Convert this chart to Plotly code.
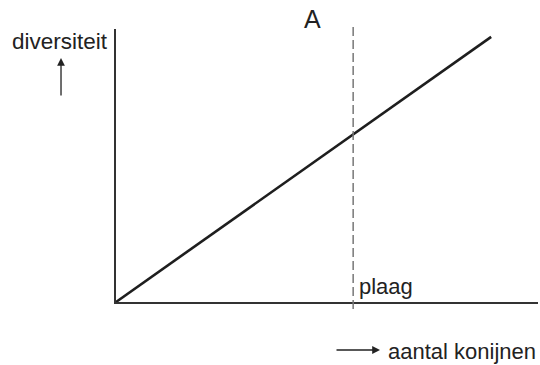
import plotly.graph_objects as go

# aantal konijnen (x) tegen diversiteit (y), schematisch
konijnen = [0, 8.89]
diversiteit = [0, 9.71]
plaag_x = 5.62

fig = go.Figure()
fig.add_trace(go.Scatter(x=konijnen, y=diversiteit, mode="lines",
                         line=dict(color="#1e1e1e", width=2.6),
                         hoverinfo="skip", showlegend=False))

# verticale stippellijn bij de plaag
fig.add_shape(type="line", xref="x", yref="paper", x0=plaag_x, x1=plaag_x,
              y0=-0.026, y1=1.007, line=dict(color="#777777", width=1.5, dash="9px,4px"))

font = dict(family="Liberation Sans, Arial, sans-serif", color="#222222")

fig.add_annotation(text="A", xref="paper", yref="paper", x=0.4668, y=1.0366,
                   showarrow=False, font=dict(font, size=25), xanchor="center", yanchor="middle")
fig.add_annotation(text="diversiteit", xref="paper", yref="paper", x=-0.1327, y=0.956,
                   showarrow=False, font=dict(font, size=22.5), xanchor="center", yanchor="middle")
fig.add_annotation(text="plaag", xref="x", yref="paper", x=plaag_x, y=0.058,
                   xshift=4, showarrow=False, font=dict(font, size=22),
                   xanchor="left", yanchor="middle")
fig.add_annotation(text="aantal konijnen", xref="paper", yref="paper", x=1.0, y=-0.1795,
                   showarrow=False, font=dict(font, size=22), xanchor="right", yanchor="middle")

# pijltjes bij de aslabels
fig.add_annotation(text="", xref="paper", yref="paper", x=-0.1303, y=0.894,
                   ax=0, ay=39, showarrow=True, arrowhead=2, arrowsize=1.2,
                   arrowwidth=1.3, arrowcolor="#222222")
fig.add_annotation(text="", xref="paper", yref="paper", x=0.6256, y=-0.1758,
                   ax=-45, ay=0, showarrow=True, arrowhead=2, arrowsize=1.2,
                   arrowwidth=1.3, arrowcolor="#222222")

axis = dict(range=[0, 10], showline=True, linecolor="#333333", linewidth=2,
            showgrid=False, zeroline=False, showticklabels=False, ticks="")
fig.update_xaxes(axis)
fig.update_yaxes(axis)
fig.update_layout(width=540, height=365,
                  margin=dict(l=116, r=2, t=29, b=63),
                  plot_bgcolor="white", paper_bgcolor="white")

fig.write_html("out.html", config={"displayModeBar": False},
               post_script="document.body.style.margin='0';")
